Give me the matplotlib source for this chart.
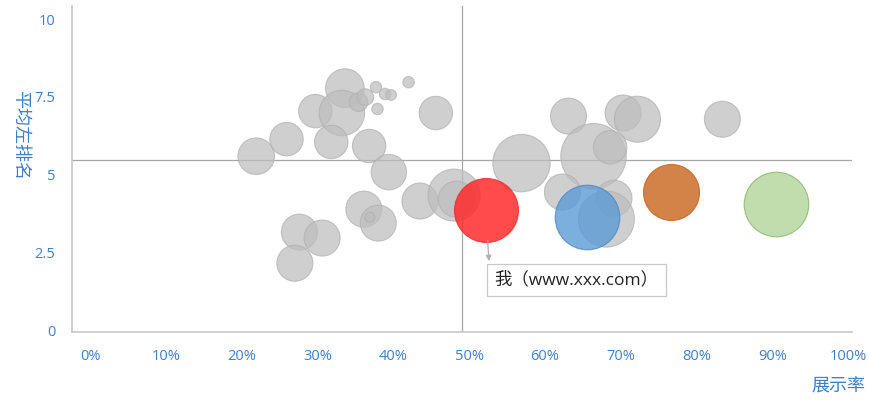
import numpy as np
import matplotlib
matplotlib.use("Agg")
import matplotlib.pyplot as plt

plt.rcParams['font.family'] = ['Open Sans', 'Noto Sans CJK SC', 'DejaVu Sans']

# 其他网站：展示率、平均左排名、气泡大小
others_x = [0.219, 0.259, 0.297, 0.336, 0.332, 0.354, 0.363, 0.377, 0.389, 0.397,
            0.379, 0.420, 0.456, 0.318, 0.368, 0.394, 0.361, 0.380, 0.369, 0.435,
            0.480, 0.483, 0.276, 0.306, 0.270, 0.631, 0.703, 0.722, 0.834, 0.569,
            0.664, 0.686, 0.623, 0.691, 0.681]
others_y = [5.59, 6.14, 7.04, 7.78, 6.98, 7.33, 7.49, 7.81, 7.59, 7.56,
            7.11, 7.97, 6.98, 6.05, 5.92, 5.08, 3.89, 3.44, 3.63, 4.15,
            4.34, 4.21, 3.15, 2.96, 2.15, 6.88, 6.98, 6.78, 6.78, 5.37,
            5.59, 5.88, 4.44, 4.24, 3.57]
others_size = [18.3, 16.7, 16.7, 19.3, 22.7, 9.3, 8.3, 5.7, 5.7, 5.3,
               5.7, 5.7, 16.7, 16.7, 16.7, 17.7, 18, 18, 5, 18,
               26, 18, 18, 18, 18, 18, 18, 23, 18, 28.7,
               32.7, 16.7, 18, 18, 28]

# 重点网站
key_names = ['我', '蓝', '橙', '绿']
key_x = [0.522, 0.656, 0.766, 0.905]
key_y = [3.86, 3.63, 4.44, 4.05]
key_size = [32, 32.3, 28, 32.3]
key_face = ['#ff2b2b', '#5b9bd5', '#cf7634', '#a9d18e']
key_edge = ['#e83030', '#4a86c0', '#c46a2c', '#7fae5e']
key_alpha = [0.85, 0.8, 0.9, 0.72]

avg_x = 0.491
avg_y = 5.47

x_ticks = np.linspace(0, 1, 11)
y_ticks = [0, 2.5, 5, 7.5, 10]
y_tick_labels = ['0', '2.5', '5', '7.5', '10']


def area(r):
    # 半径(像素) -> scatter 面积(pt^2)
    return (2 * np.asarray(r) * 0.72) ** 2


fig = plt.figure(figsize=(8.7, 4.03), dpi=100)
ax = fig.add_axes([72 / 870, 1 - 332 / 403, 780 / 870, 326 / 403])

ax.axvline(avg_x, color='#a6a6a6', lw=0.9, zorder=1)
ax.axhline(avg_y, color='#a6a6a6', lw=0.9, zorder=1)

ax.scatter(others_x, others_y, s=area(others_size), c='#bdbdbd', alpha=0.72,
           edgecolors='#b0b0b0', linewidths=0.8, zorder=2)
for i in range(len(key_x)):
    ax.scatter(key_x[i], key_y[i], s=area(key_size[i]), c=key_face[i],
               alpha=key_alpha[i], edgecolors=key_edge[i], linewidths=0.8,
               zorder=3)

ax.annotate('我（www.xxx.com）', xy=(0.533, 1.61), fontsize=12.5, color='#222222',
            va='center', ha='left', zorder=5,
            family=['Open Sans', 'Noto Sans CJK SC'],
            bbox=dict(boxstyle='square,pad=0.42', fc='white', ec='#c8c8c8', lw=0.9))
ax.annotate('', xy=(0.526, 2.22), xytext=(key_x[0], key_y[0]), zorder=4,
            arrowprops=dict(arrowstyle='-|>', color='#b0b0b0', lw=0.9,
                            shrinkA=22, shrinkB=0, mutation_scale=8))

ax.set_xlim(-0.024, 1.005)
ax.set_ylim(-0.06, 10.42)
ax.set_xticks(x_ticks)
ax.set_xticklabels([f'{int(round(v * 100))}%' for v in x_ticks])
ax.set_yticks(y_ticks)
ax.set_yticklabels(y_tick_labels)
ax.tick_params(length=0, colors='#3f7fc4', labelsize=10.5)
ax.tick_params(axis='x', pad=12)
ax.tick_params(axis='y', pad=12)

for side in ['top', 'right']:
    ax.spines[side].set_visible(False)
for side in ['left', 'bottom']:
    ax.spines[side].set_color('#c8c8c8')
    ax.spines[side].set_linewidth(1.2)

fig.text(20 / 870, 1 - 135 / 403, '平均左排名', rotation=-90, fontsize=13,
         color='#3f7fc4', ha='center', va='center',
         family=['Noto Sans CJK SC', 'DejaVu Sans'])
fig.text(865 / 870, 1 - 387 / 403, '展示率', fontsize=13, color='#3f7fc4',
         ha='right', va='center', family=['Noto Sans CJK SC', 'DejaVu Sans'])

fig.savefig('out.png', dpi=100)
